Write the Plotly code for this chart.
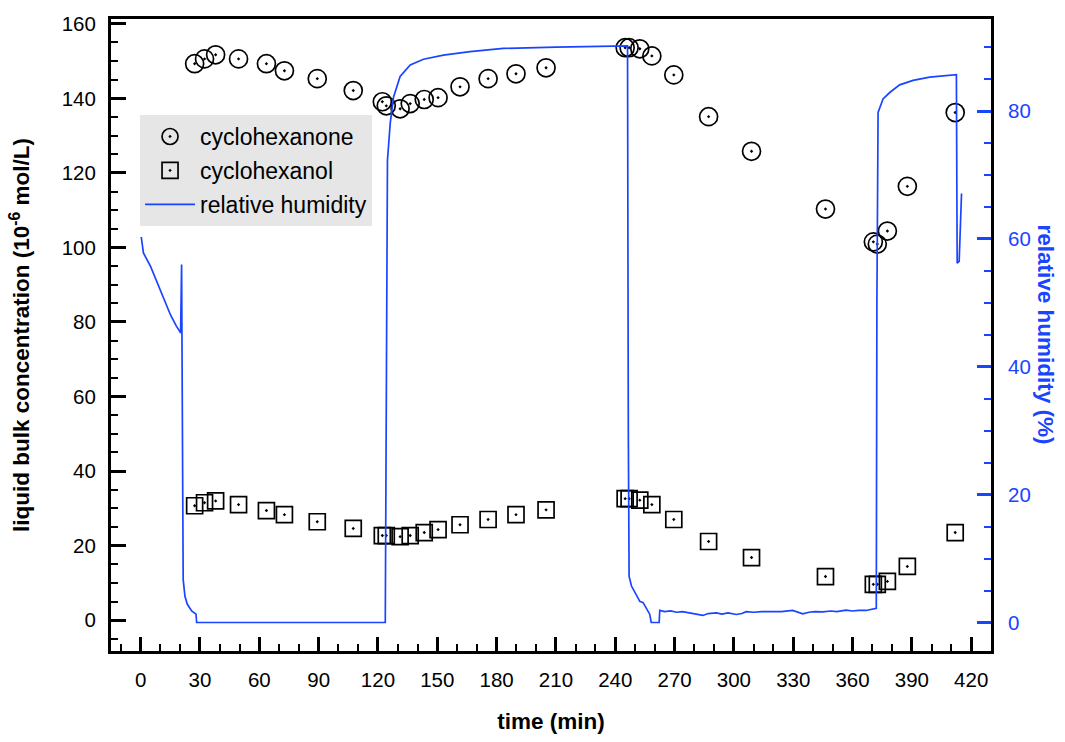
import plotly.graph_objects as go

# --- data ---
time_pts = [27.3, 32.3, 37.9, 49.5, 63.6, 72.7, 89.3, 107.5, 122.2, 124.2, 131.2, 136.3,
            143.4, 150.4, 161.5, 175.7, 189.8, 205.0, 245.0, 247.0, 252.4, 258.5, 269.6,
            287.2, 308.9, 346.3, 370.5, 372.5, 377.6, 387.7, 411.9]

cyclohexanone = [149.3, 150.6, 151.7, 150.6, 149.3, 147.4, 145.3, 142.1, 139.1, 138.0, 137.2, 138.6,
                 139.7, 140.2, 143.1, 145.3, 146.6, 148.2, 153.6, 153.6, 153.3, 151.4, 146.3,
                 135.1, 125.8, 110.3, 101.5, 100.9, 104.4, 116.4, 136.2]

cyclohexanol = [30.7, 31.5, 32.0, 31.0, 29.4, 28.3, 26.4, 24.6, 22.7, 22.7, 22.4, 22.7,
                23.5, 24.3, 25.6, 27.0, 28.3, 29.6, 32.6, 32.6, 32.2, 31.0, 27.0,
                21.1, 16.8, 11.7, 9.6, 9.6, 10.4, 14.4, 23.5]

rh_time = [0.3, 1.0, 1.4, 5.0, 8.4, 11.8, 15.1, 18.0, 20.2, 20.7, 21.1, 21.5, 22.4, 23.6, 25.8,
           28.0, 28.3, 123.7,
           124.3, 124.8, 126.2, 127.9, 131.2, 136.3, 143.0, 153.1, 166.6, 183.4, 210.0, 246.2,
           246.6, 247.0, 248.2, 250.8, 252.4, 254.1, 256.6, 257.4, 258.2, 262.2, 262.5,
           265.0, 268.0, 271.0, 274.0, 277.6, 281.0, 284.3, 287.0, 291.1, 294.0, 297.0, 301.2,
           304.0, 306.2, 310.0, 314.0, 319.6, 324.0, 329.7, 332.0, 334.8, 338.0, 341.0, 344.9,
           349.0, 352.0, 356.7, 360.0, 363.0, 366.8, 369.0, 371.0, 372.0,
           372.3, 372.6, 372.9, 375.4, 378.8, 383.8, 390.6, 399.0, 407.5, 412.5,
           412.9, 413.9, 415.1]

rh_value = [60.3, 58.6, 57.8, 55.7, 53.1, 50.5, 48.1, 46.4, 45.3, 56.0, 25.0, 6.7, 4.1, 2.85, 1.8,
            1.3, 0.0, 0.0,
            40.0, 72.3, 78.1, 82.2, 85.4, 87.2, 88.1, 88.75, 89.3, 89.8, 90.0, 90.2,
            30.0, 7.2, 5.7, 4.1, 3.3, 3.1, 1.56, 1.3, 0.0, 0.0, 1.9,
            1.7, 1.8, 1.6, 1.7, 1.5, 1.4, 1.1, 1.4, 1.5, 1.3, 1.5, 1.25,
            1.4, 1.7, 1.6, 1.7, 1.67, 1.7, 1.9, 1.7, 1.36, 1.6, 1.7, 1.67,
            1.8, 1.7, 1.92, 1.8, 1.9, 1.88, 2.0, 2.14, 2.2,
            50.0, 75.0, 79.8, 81.9, 82.9, 84.1, 84.8, 85.3, 85.5, 85.7,
            56.2, 56.5, 67.1]

x_ticks = list(range(0, 421, 30))
conc_ticks = list(range(0, 161, 20))
rh_ticks = list(range(0, 81, 20))

BLUE = "#1a45ff"
FONT = "Liberation Sans, Arial, Helvetica, sans-serif"
TITLE_SIZE = 22.5

fig = go.Figure()

fig.add_trace(go.Scatter(
    x=time_pts, y=cyclohexanone, mode="markers", name="cyclohexanone",
    legendgroup="a",
    marker=dict(symbol="circle-open-dot", size=18, color="black", line=dict(width=1.7)),
))
fig.add_trace(go.Scatter(
    x=time_pts, y=cyclohexanol, mode="markers", name="cyclohexanol",
    legendgroup="b",
    marker=dict(symbol="square-open-dot", size=16, color="black", line=dict(width=1.7)),
))
fig.add_trace(go.Scatter(
    x=rh_time, y=rh_value, mode="lines", name="relative humidity",
    legendgroup="c", yaxis="y2",
    line=dict(color=BLUE, width=1.7),
))

fig.update_layout(
    width=1065, height=742,
    margin=dict(l=111, r=74, t=17, b=91),
    paper_bgcolor="white", plot_bgcolor="white",
    font=dict(family=FONT, size=20, color="black"),
    showlegend=True,
    legend=dict(
        x=0.033, y=0.848, xanchor="left", yanchor="top",
        bgcolor="#e6e6e6", borderwidth=0,
        font=dict(size=23, color="black", family=FONT),
        tracegroupgap=1, itemwidth=50,
    ),
    xaxis=dict(
        range=[-15, 430], tickmode="array", tickvals=x_ticks,
        ticks="inside", ticklen=14, tickwidth=2.5, tickcolor="black",
        minor=dict(dtick=10, tick0=0, ticks="inside", ticklen=7, tickwidth=1.8, tickcolor="black"),
        showline=True, linewidth=3, linecolor="black", mirror=True,
        showgrid=False, zeroline=False,
        ticklabelstandoff=8,
        tickfont=dict(size=20.5, color="black"),
        title=dict(text="<b>time (min)</b>", font=dict(size=TITLE_SIZE, color="black"), standoff=24),
    ),
    yaxis=dict(
        range=[-8.28, 161.3], tickmode="array", tickvals=conc_ticks,
        ticks="inside", ticklen=15, tickwidth=2.5, tickcolor="black",
        minor=dict(dtick=5, tick0=0, ticks="inside", ticklen=7, tickwidth=1.8, tickcolor="black"),
        showline=True, linewidth=3, linecolor="black",
        showgrid=False, zeroline=False,
        ticklabelstandoff=8,
        tickfont=dict(size=20.5, color="black"),
        title=dict(text="<b>liquid bulk concentration (10<sup>-6</sup> mol/L)</b>",
                   font=dict(size=TITLE_SIZE, color="black"), standoff=26),
    ),
    yaxis2=dict(
        overlaying="y", side="right",
        range=[-4.46, 94.4], tickmode="array", tickvals=rh_ticks,
        ticks="inside", ticklen=14, tickwidth=3, tickcolor=BLUE,
        minor=dict(dtick=5, tick0=0, ticks="inside", ticklen=7, tickwidth=1.8, tickcolor=BLUE),
        showline=True, linewidth=3, linecolor="black",
        showgrid=False, zeroline=False,
        ticklabelstandoff=10,
        tickfont=dict(size=20.5, color=BLUE),
    ),
    annotations=[dict(
        text="<b>relative humidity (%)</b>", textangle=90,
        xref="paper", yref="paper", x=1.063, y=0.5,
        xanchor="center", yanchor="middle", showarrow=False,
        font=dict(size=TITLE_SIZE, color=BLUE, family=FONT),
    )],
)

fig.write_html("out.html")
